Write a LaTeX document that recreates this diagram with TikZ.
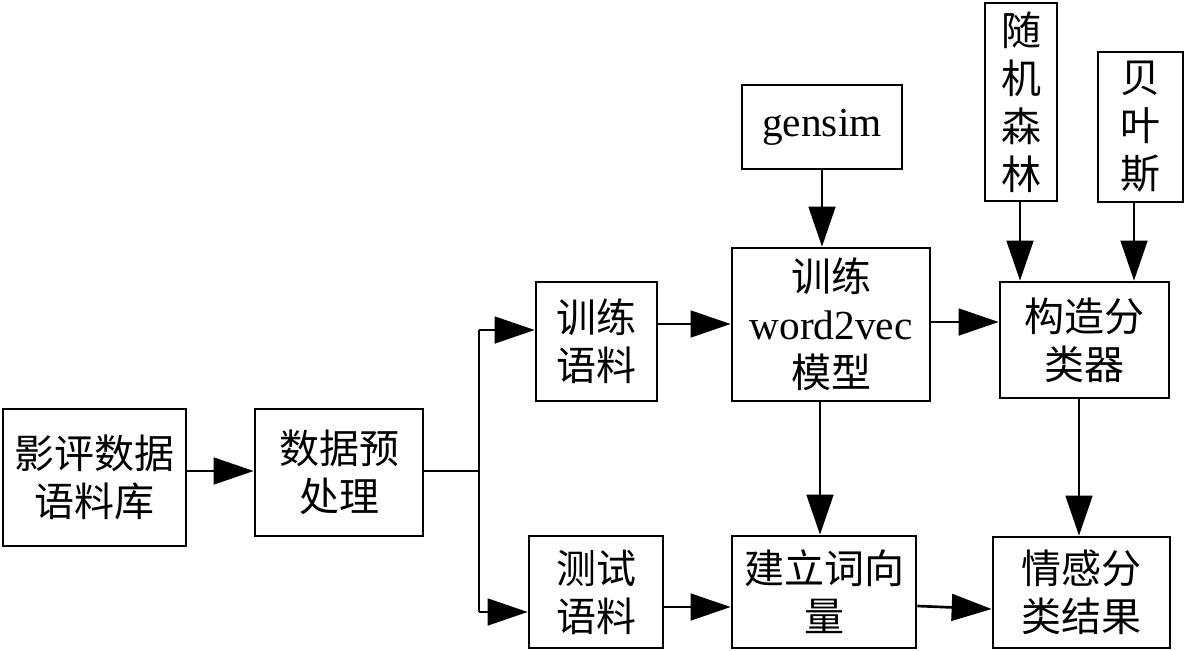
\documentclass[tikz,border=0pt]{standalone}
\usepackage{fontspec}
\setmainfont{Liberation Serif}
\newfontfamily\cjk{Noto Sans CJK SC}
\usetikzlibrary{arrows.meta}
\tikzset{
  box/.style={draw, line width=2pt, inner sep=0pt, align=center,
    font=\fontsize{30pt}{36pt}\selectfont\cjk},
  arr/.style={line width=2pt, -{Triangle[length=30pt,width=20pt]}},
  ln/.style={line width=2pt},
}
\begin{document}
\begin{tikzpicture}[x=0.75pt,y=-0.75pt]
\useasboundingbox (0,0) rectangle (1189,650);
% nodes (centres in px)
\node[box, minimum width=137.25pt, minimum height=102.75pt] (A) at (94.5,477.5) {影评数据\\语料库};
\node[box, minimum width=126pt, minimum height=95.25pt] (B) at (339,472.5) {数据预\\处理};
\node[box, minimum width=90.75pt, minimum height=89.25pt] (C) at (596.5,341.5) {训练\\语料};
\node[box, minimum width=100.5pt, minimum height=84pt] (D) at (596,592) {测试\\语料};
\node[box, minimum width=148.5pt, minimum height=114.75pt] (E) at (831,324.5) {训练\\{\rmfamily\fontsize{31pt}{36pt}\selectfont word2vec}\\模型};
\node[box, minimum width=120pt, minimum height=63pt, font=\fontsize{31pt}{36pt}\selectfont\rmfamily] (G) at (822,127) {gensim};
\node[box, minimum width=138pt, minimum height=84pt] (F) at (824,592) {建立词向\\量};
\node[box, minimum width=54pt, minimum height=148.5pt] (R) at (1021,102) {随\\机\\森\\林};
\node[box, minimum width=63.75pt, minimum height=112.5pt] (Y) at (1140.5,127) {贝\\叶\\斯};
\node[box, minimum width=126.75pt, minimum height=87pt] (K) at (1084.5,340) {构造分\\类器};
\node[box, minimum width=132.75pt, minimum height=83.25pt] (S) at (1081.5,592.5) {情感分\\类结果};
% helper coordinates
\coordinate (j) at (479,471);
\coordinate (jt) at (479,330);
\coordinate (jb) at (479,612);
\coordinate (ce) at (700,324);
\coordinate (dF) at (700,607);
\coordinate (ek) at (960,322);
\coordinate (gx) at (822,200);
\coordinate (ex) at (820,450);
\coordinate (rx) at (1020,240);
\coordinate (yx) at (1134,240);
\coordinate (kx) at (1079,470);
% connectors
\draw[arr] (A.east |- j) -- (B.west |- j);
\draw[ln] (B.east |- j) -- (j);
\draw[ln] (jt) -- (jb);
\draw[arr] (jt) -- (jt -| C.west);
\draw[arr] (jb) -- (jb -| D.west);
\draw[arr] (ce -| C.east) -- (ce -| E.west);
\draw[arr] (dF -| D.east) -- (dF -| F.west);
\draw[arr] (gx |- G.south) -- (gx |- E.north);
\draw[arr] (ex |- E.south) -- (ex |- F.north);
\draw[arr] (ek -| E.east) -- (ek -| K.west);
\draw[arr] (rx |- R.south) -- (rx |- K.north);
\draw[arr] (yx |- Y.south) -- (yx |- K.north);
\draw[arr] (kx |- K.south) -- (kx |- S.north);
\draw[arr] ([yshift=-10.5pt]F.east) -- ([yshift=-12.4pt]S.west);
\end{tikzpicture}
\end{document}
